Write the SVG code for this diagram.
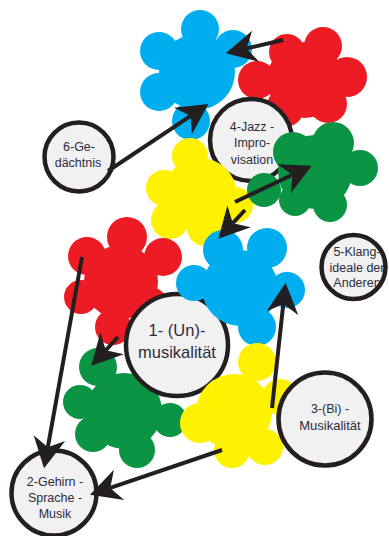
<svg xmlns="http://www.w3.org/2000/svg" width="389" height="536" viewBox="0 0 389 536">
<defs>
<style>
.blue{fill:#00aeef}
.red{fill:#ed1c24}
.yellow{fill:#fff200}
.green{fill:#0b9444}
.node circle{fill:#f1f1f2;stroke:#231f20;stroke-width:4.5}
.node text{font-family:"Liberation Sans",Arial,sans-serif;font-size:12.5px;fill:#2d2c3c;text-anchor:middle}
.conn line{stroke:#231f20;stroke-width:4;marker-end:url(#ah)}
</style>
<marker id="ah" markerUnits="userSpaceOnUse" orient="auto" markerWidth="40" markerHeight="40" refX="0" refY="0" viewBox="-10 -15 30 30" overflow="visible">
<path d="M16,0 L-7,-12 L0,0 L-7,12 Z" fill="#231f20"/>
</marker>
</defs>
<rect width="389" height="536" fill="#ffffff"/>

<g id="flower-blue-top" class="blue">
<circle cx="197" cy="72" r="38"/>
<circle cx="200" cy="29" r="19"/>
<circle cx="159" cy="51" r="19"/>
<circle cx="159" cy="92" r="19"/>
<circle cx="191" cy="121" r="19"/>
<circle cx="233" cy="49" r="19"/>
</g>

<g id="flower-red-top" class="red">
<circle cx="305" cy="80" r="38"/>
<circle cx="287" cy="52" r="18"/>
<circle cx="323" cy="46" r="19"/>
<circle cx="347" cy="77" r="20"/>
<circle cx="257" cy="80" r="19"/>
<circle cx="328" cy="104" r="19"/>
<circle cx="285" cy="108" r="19"/>
</g>

<g id="node-4" class="node">
<circle cx="251" cy="140" r="41"/>
<text x="252" y="131">4-Jazz -</text>
<text x="252" y="147">Impro-</text>
<text x="252" y="163.5">visation</text>
</g>

<g id="flower-yellow-top" class="yellow">
<circle cx="200" cy="195" r="37"/>
<circle cx="190" cy="156" r="18"/>
<circle cx="164" cy="188" r="18"/>
<circle cx="170" cy="220" r="19"/>
<circle cx="205" cy="228" r="18"/>
<circle cx="235" cy="205" r="18"/>
</g>

<g id="flower-green-right" class="green">
<circle cx="315" cy="172" r="37"/>
<circle cx="293" cy="152" r="20"/>
<circle cx="333" cy="143" r="21"/>
<circle cx="360" cy="168" r="18"/>
<circle cx="330" cy="205" r="17"/>
<circle cx="295" cy="200" r="16"/>
<circle cx="264" cy="190" r="17"/>
</g>

<g id="flower-red-left" class="red">
<circle cx="121" cy="282" r="37"/>
<circle cx="127" cy="237" r="20"/>
<circle cx="87" cy="256" r="19"/>
<circle cx="163" cy="257" r="19"/>
<circle cx="81" cy="297" r="17"/>
<circle cx="113" cy="327" r="18"/>
<circle cx="150" cy="305" r="18"/>
</g>

<g id="flower-green-low" class="green">
<circle cx="124" cy="411" r="38"/>
<circle cx="98" cy="367" r="19"/>
<circle cx="80" cy="402" r="17"/>
<circle cx="93" cy="434" r="18"/>
<circle cx="137" cy="450" r="18"/>
<circle cx="170" cy="420" r="17"/>
</g>

<g id="node-1" class="node">
<circle cx="177" cy="345" r="51"/>
<text x="177" y="336" style="font-size:16.5px">1- (Un)-</text>
<text x="177" y="357.5" style="font-size:16.5px">musikalität</text>
</g>

<g id="flower-blue-mid" class="blue">
<circle cx="240" cy="288" r="38"/>
<circle cx="223" cy="250" r="20"/>
<circle cx="267" cy="248" r="20"/>
<circle cx="287" cy="290" r="18"/>
<circle cx="257" cy="327" r="19"/>
<circle cx="194" cy="283" r="18"/>
</g>

<g id="flower-yellow-low" class="yellow">
<circle cx="234" cy="412" r="38"/>
<circle cx="257" cy="362" r="19"/>
<circle cx="200" cy="423" r="20"/>
<circle cx="232" cy="450" r="18"/>
<circle cx="265" cy="447" r="18"/>
<circle cx="280" cy="397" r="18"/>
</g>

<g id="node-3" class="node">
<circle cx="325" cy="419" r="46.5"/>
<text x="330" y="413">3-(Bi) -</text>
<text x="330" y="430" style="font-size:13px">Musikalität</text>
</g>

<g id="node-6" class="node">
<circle cx="79" cy="157" r="34.5"/>
<text x="79" y="151">6-Ge-</text>
<text x="78" y="166.5">dächtnis</text>
</g>

<g id="node-5" class="node">
<circle cx="353.5" cy="267" r="32"/>
<text x="357" y="256">5-Klang-</text>
<text x="357" y="271.5">ideale der</text>
<text x="357" y="286.5">Anderen</text>
</g>

<g id="node-2" class="node">
<circle cx="54" cy="493" r="42.5"/>
<text x="55" y="486">2-Gehirn -</text>
<text x="55" y="501.5">Sprache -</text>
<text x="55" y="517.5">Musik</text>
</g>

<g id="connectors" class="conn">
<line x1="283" y1="40" x2="246.6" y2="48.4"/>
<line x1="108" y1="171" x2="190.7" y2="115.9"/>
<line x1="235" y1="202" x2="292.5" y2="174.8"/>
<line x1="245" y1="210" x2="232.8" y2="223.2"/>
<line x1="82" y1="257" x2="47.8" y2="447.3"/>
<line x1="118" y1="337" x2="105.8" y2="350.2"/>
<line x1="272" y1="408" x2="283.3" y2="303.9"/>
<line x1="222" y1="450" x2="110.2" y2="487.9"/>
</g>
</svg>
